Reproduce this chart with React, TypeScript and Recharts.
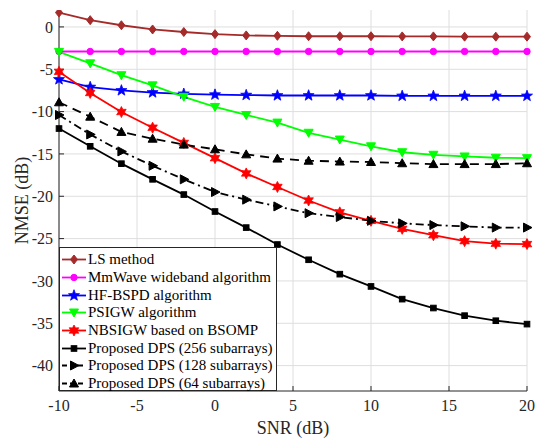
import React from 'react'
import {
  LineChart, Line, XAxis, YAxis, CartesianGrid, Legend,
} from 'recharts'

const snr = [-10, -8, -6, -4, -2, 0, 2, 4, 6, 8, 10, 12, 14, 16, 18, 20]
const lsMethod = [1.7, 0.8, 0.2, -0.3, -0.6, -0.85, -1.0, -1.05, -1.1, -1.1, -1.1, -1.12, -1.12, -1.15, -1.15, -1.15]
const mmWave = [-2.9, -2.9, -2.9, -2.9, -2.9, -2.9, -2.9, -2.9, -2.9, -2.9, -2.9, -2.9, -2.9, -2.9, -2.9, -2.9]
const hfBspd = [-6.2, -7.1, -7.5, -7.75, -7.9, -8.0, -8.05, -8.1, -8.1, -8.1, -8.1, -8.15, -8.15, -8.15, -8.15, -8.15]
const psigw = [-2.95, -4.3, -5.7, -6.9, -8.25, -9.45, -10.4, -11.3, -12.5, -13.3, -14.1, -14.8, -15.1, -15.3, -15.45, -15.5]
const nbsigw = [-5.3, -7.8, -10.05, -11.9, -13.7, -15.5, -17.3, -18.9, -20.5, -21.9, -22.9, -23.85, -24.6, -25.3, -25.6, -25.65]
const dps256 = [-12.0, -14.1, -16.15, -18.0, -19.8, -21.8, -23.7, -25.7, -27.5, -29.2, -30.65, -32.15, -33.2, -34.1, -34.7, -35.1]
const dps128 = [-10.4, -12.7, -14.7, -16.4, -18.0, -19.5, -20.4, -21.2, -22.0, -22.45, -22.9, -23.2, -23.4, -23.55, -23.7, -23.7]
const dps64 = [-8.9, -10.6, -12.4, -13.2, -13.9, -14.45, -15.05, -15.55, -15.8, -15.9, -15.95, -16.1, -16.2, -16.2, -16.2, -16.1]

const xTicks = [-10, -5, 0, 5, 10, 15, 20]
const yTicks = [-40, -35, -30, -25, -20, -15, -10, -5, 0]

type Shape = 'diamond' | 'circle' | 'pentagram' | 'down' | 'hexagram' | 'square' | 'right' | 'up'

interface SeriesDef {
  key: string
  name: string
  values: number[]
  color: string
  shape: Shape
  dash?: string
}

const series: SeriesDef[] = [
  { key: 'ls', name: 'LS method', values: lsMethod, color: '#a52a2a', shape: 'diamond' },
  { key: 'mm', name: 'MmWave wideband algorithm', values: mmWave, color: '#ff00ff', shape: 'circle' },
  { key: 'hf', name: 'HF-BSPD algorithm', values: hfBspd, color: '#0000ff', shape: 'pentagram' },
  { key: 'ps', name: 'PSIGW algorithm', values: psigw, color: '#00ff00', shape: 'down' },
  { key: 'nb', name: 'NBSIGW based on BSOMP', values: nbsigw, color: '#ff0000', shape: 'hexagram' },
  { key: 'd256', name: 'Proposed DPS (256 subarrays)', values: dps256, color: '#000000', shape: 'square' },
  { key: 'd128', name: 'Proposed DPS (128 subarrays)', values: dps128, color: '#000000', shape: 'right', dash: '8 4 2 4' },
  { key: 'd64', name: 'Proposed DPS (64 subarrays)', values: dps64, color: '#000000', shape: 'up', dash: '9 6' },
]

const data = snr.map((x, i) => {
  const row: Record<string, number> = { snr: x }
  series.forEach((s) => { row[s.key] = s.values[i] })
  return row
})

const starPoints = (cx: number, cy: number, n: number, R: number, r: number) => {
  const pts: string[] = []
  for (let i = 0; i < n * 2; i++) {
    const rad = i % 2 === 0 ? R : r
    const a = -Math.PI / 2 + (i * Math.PI) / n
    pts.push(`${cx + rad * Math.cos(a)},${cy + rad * Math.sin(a)}`)
  }
  return pts.join(' ')
}

function Marker({ shape, cx, cy, color }: { shape: Shape; cx: number; cy: number; color: string }) {
  switch (shape) {
    case 'diamond':
      return <polygon points={`${cx},${cy - 4.5} ${cx + 3.5},${cy} ${cx},${cy + 4.5} ${cx - 3.5},${cy}`} fill={color} stroke={color} />
    case 'circle':
      return <circle cx={cx} cy={cy} r={3.2} fill={color} stroke={color} />
    case 'pentagram':
      return <polygon points={starPoints(cx, cy, 5, 5.8, 2.4)} fill={color} stroke={color} strokeWidth={0.8} />
    case 'down':
      return <polygon points={`${cx - 4.5},${cy - 3.5} ${cx + 4.5},${cy - 3.5} ${cx},${cy + 4.5}`} fill={color} stroke={color} />
    case 'hexagram':
      return <polygon points={starPoints(cx, cy, 6, 5.5, 3)} fill={color} stroke={color} strokeWidth={0.8} />
    case 'square':
      return <rect x={cx - 2.8} y={cy - 2.8} width={5.6} height={5.6} fill={color} stroke={color} />
    case 'right':
      return <polygon points={`${cx - 3.5},${cy - 4.5} ${cx - 3.5},${cy + 4.5} ${cx + 5},${cy}`} fill={color} stroke={color} />
    case 'up':
      return <polygon points={`${cx - 4.5},${cy + 3.5} ${cx + 4.5},${cy + 3.5} ${cx},${cy - 4.5}`} fill={color} stroke={color} />
  }
  return null
}

const makeDot = (s: SeriesDef) => (props: any) => (
  <Marker key={`${s.key}-${props.index}`} shape={s.shape} cx={props.cx} cy={props.cy} color={s.color} />
)

const font = '"Liberation Serif", "Times New Roman", serif'
const axisColor = '#262626'
const tickStyle = { fill: axisColor, fontSize: 16, fontFamily: font }

const LegendBox = () => (
  <div style={{
    border: `1px solid ${axisColor}`, background: '#fff', boxSizing: 'border-box',
    width: 218, height: 144, paddingTop: 3, fontFamily: font, fontSize: 15, color: '#000',
  }}>
    {series.map((s) => (
      <div key={s.key} style={{ display: 'flex', alignItems: 'center', height: 17.7, whiteSpace: 'nowrap' }}>
        <svg width={27} height={17} style={{ flex: 'none' }}>
          <line x1={2} x2={26} y1={8.5} y2={8.5} stroke={s.color} strokeWidth={1.8} strokeDasharray={s.dash ? '5 3' : undefined} />
          <Marker shape={s.shape} cx={14} cy={8.5} color={s.color} />
        </svg>
        <span style={{ marginLeft: 1 }}>{s.name}</span>
      </div>
    ))}
  </div>
)

export default function App() {
  return (
    <div style={{ position: 'absolute', left: 0, top: 0, background: '#fff' }}>
      <LineChart width={539} height={439} data={data} margin={{ top: 10, right: 12, left: 0, bottom: 0 }}>
        <CartesianGrid stroke="#dedede" strokeWidth={1} horizontalValues={yTicks} verticalValues={xTicks} />
        <XAxis
          dataKey="snr" type="number" domain={[-10, 20]} ticks={xTicks} height={48}
          stroke={axisColor} tick={tickStyle} tickSize={-5} tickMargin={13.5}
          label={{ value: 'SNR (dB)', position: 'insideBottom', offset: 5, style: { fill: axisColor, fontSize: 18, fontFamily: font } }}
        />
        <XAxis
          xAxisId="top" orientation="top" dataKey="snr" type="number" domain={[-10, 20]} ticks={xTicks}
          height={0} stroke={axisColor} tick={false} tickSize={-5}
        />
        <YAxis
          type="number" domain={[-43, 2]} ticks={yTicks} width={59} allowDataOverflow
          stroke={axisColor} tick={tickStyle} tickSize={-5} tickMargin={11}
          label={{ value: 'NMSE (dB)', angle: -90, position: 'insideLeft', offset: 22, style: { fill: axisColor, fontSize: 18, fontFamily: font, textAnchor: 'middle' } }}
        />
        <YAxis
          yAxisId="right" orientation="right" type="number" domain={[-43, 2]} ticks={yTicks} width={0}
          allowDataOverflow stroke={axisColor} tick={false} tickSize={-5}
        />
        {series.map((s) => (
          <Line
            key={s.key} dataKey={s.key} name={s.name} stroke={s.color} strokeWidth={1.8}
            strokeDasharray={s.dash} dot={makeDot(s)} activeDot={false} isAnimationActive={false} type="linear"
          />
        ))}
        <Legend
          layout="vertical" align="center" verticalAlign="middle" content={<LegendBox />}
          wrapperStyle={{ position: 'absolute', left: 59, top: 247, width: 218, height: 144 }}
        />
      </LineChart>
    </div>
  )
}
